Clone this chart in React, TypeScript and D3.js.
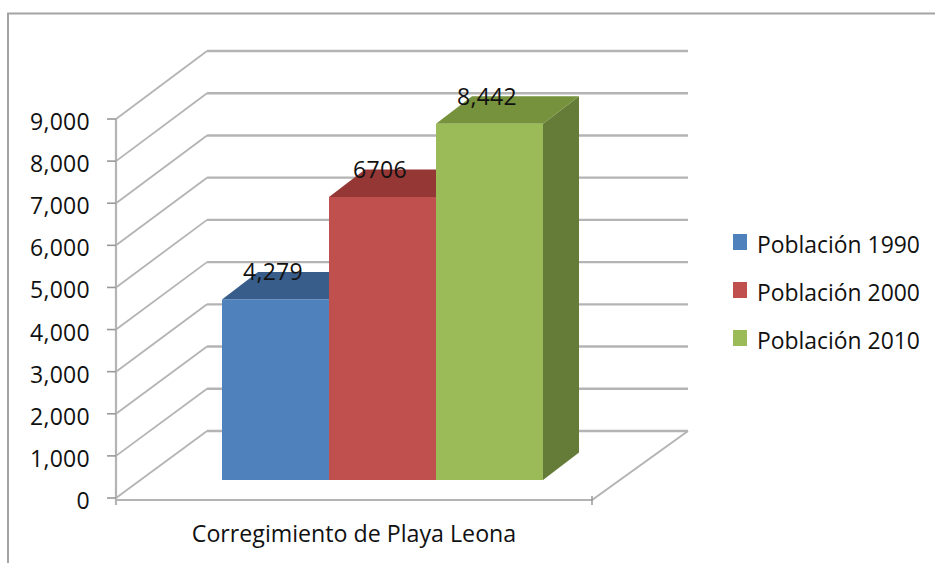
import React from "react";
import * as d3 from "d3";

const seriesNames = ["Población 1990", "Población 2000", "Población 2010"];
const seriesValues = [4279, 6706, 8442];
const valueLabels = ["4,279", "6706", "8,442"];
const category = "Corregimiento de Playa Leona";
const axisTicks = [0, 1000, 2000, 3000, 4000, 5000, 6000, 7000, 8000, 9000];
const frontColors = ["#4F81BD", "#C0504D", "#9BBB59"];
const topColors = ["#385D8A", "#953735", "#76923C"];
const sideColors = ["#385D8A", "#953735", "#647C37"];

const FONT = "'Open Sans', sans-serif";
const GRID = "#b4b4b4";
const BORDER = "#a3a3a3";

// Oblique projection: the wall sits up and right of the front axis plane.
const yFront = d3.scaleLinear().domain([0, 9000]).range([498, 119]);
const yWall = d3.scaleLinear().domain([0, 9000]).range([431, 51]);
const yBar = d3.scaleLinear().domain([0, 9000]).range([480, 100.2]);
const xBar = d3.scaleBand<string>().domain(seriesNames).range([222, 543]).padding(0);
const xFloor = { front: 116, wall: 207, frontEnd: 592, wallEnd: 688 };
const barDepth = { dx: 36, dy: -27.5 };
const fmt = d3.format(",");

const poly = (pts: [number, number][]) => (d3.line()(pts) ?? "") + "Z";

export default function App() {
  const w = xBar.bandwidth();
  return (
    <svg
      width={935}
      height={563}
      viewBox="0 0 935 563"
      style={{ position: "absolute", left: 0, top: 0, background: "#fff" }}
    >
      {/* chart frame */}
      <path d="M8 563V13.5H935" fill="none" stroke={BORDER} strokeWidth={2} />

      {/* wall gridlines with their oblique run to the value axis */}
      {axisTicks.map((t) => (
        <g key={t} fill="none" stroke={GRID}>
          <path d={`M${xFloor.front} ${yFront(t)}L${xFloor.wall} ${yWall(t)}`} strokeWidth={1.8} />
          <path d={`M${xFloor.wall} ${yWall(t)}H${xFloor.wallEnd}`} strokeWidth={2.4} />
        </g>
      ))}

      {/* floor edges */}
      <path
        d={`M${xFloor.front} 500H${xFloor.frontEnd}L${xFloor.wallEnd} ${yWall(0)}`}
        fill="none"
        stroke={GRID}
        strokeWidth={2}
      />

      {/* value axis */}
      <path d={`M116 ${yFront(9000)}V505`} fill="none" stroke={GRID} strokeWidth={2.2} />
      <path d={`M${xFloor.frontEnd} 496V505`} fill="none" stroke="#999" strokeWidth={1.5} />
      {axisTicks.map((t) => (
        <g key={t}>
          <line x1={107} x2={116} y1={yFront(t)} y2={yFront(t)} stroke="#999" strokeWidth={1.6} />
          <text
            x={90}
            y={yFront(t) + 11}
            textAnchor="end"
            fontFamily={FONT}
            fontSize={23}
            letterSpacing={0.3}
            fill="#111"
          >
            {fmt(t)}
          </text>
        </g>
      ))}

      {/* bars, each as front, top and side faces */}
      {seriesNames.map((name, i) => {
        const x0 = xBar(name) as number;
        const x1 = x0 + w;
        const y0 = yBar(0);
        const y1 = yBar(seriesValues[i]);
        const { dx, dy } = barDepth;
        return (
          <g key={name}>
            <path
              d={poly([[x1, y0], [x1 + dx, y0 + dy], [x1 + dx, y1 + dy], [x1, y1]])}
              fill={sideColors[i]}
            />
            <path
              d={poly([[x0, y1], [x0 + dx, y1 + dy], [x1 + dx, y1 + dy], [x1, y1]])}
              fill={topColors[i]}
            />
            <rect x={x0} y={y1} width={w} height={y0 - y1} fill={frontColors[i]} />
          </g>
        );
      })}

      {/* value labels sit on the bar tops */}
      {seriesNames.map((name, i) => (
        <text
          key={name}
          x={(xBar(name) as number) + w / 2 - 2.5}
          y={yBar(seriesValues[i]) - 19}
          textAnchor="middle"
          fontFamily={FONT}
          fontSize={23}
          letterSpacing={0.3}
          fill="#111"
        >
          {valueLabels[i]}
        </text>
      ))}

      <text x={354} y={542} textAnchor="middle" fontFamily={FONT} fontSize={23.2} fill="#111">
        {category}
      </text>

      {/* legend */}
      {seriesNames.map((name, i) => (
        <g key={name} transform={`translate(733,${234 + i * 48})`}>
          <rect width={14} height={16} fill={frontColors[i]} />
          <text x={24} y={18.5} fontFamily={FONT} fontSize={22.9} fill="#111">
            {name}
          </text>
        </g>
      ))}
    </svg>
  );
}
